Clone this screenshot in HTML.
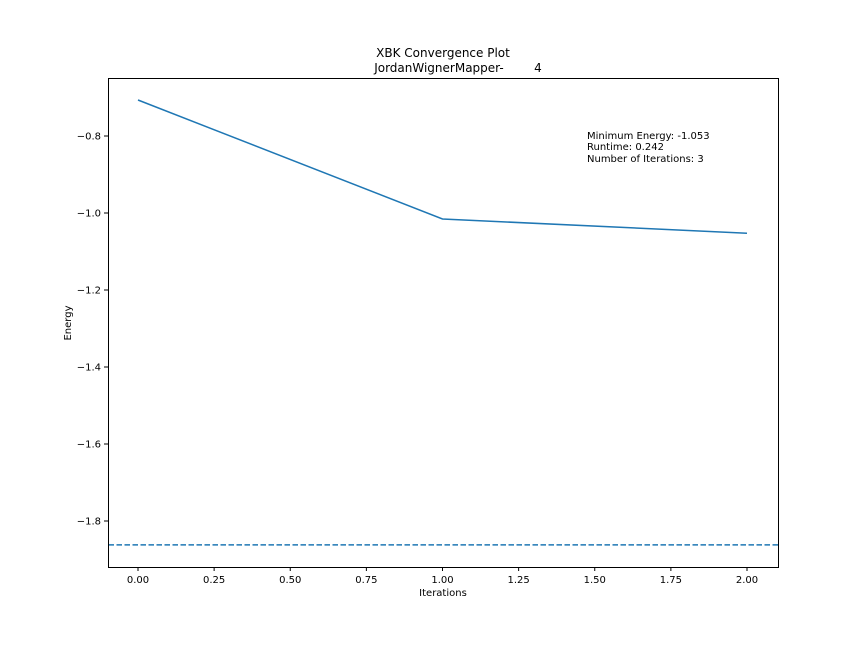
<!DOCTYPE html>
<html><head><meta charset="utf-8"><style>
body{margin:0;background:#fff;}
svg{font-family:"DejaVu Sans","Liberation Sans",sans-serif;}
</style></head><body>
<svg id="chart" width="864" height="648">
<rect width="864" height="648" fill="#fff"/>
<text x="443" y="57" font-size="12" text-anchor="middle">XBK Convergence Plot</text>
<text x="458" y="72" font-size="12" text-anchor="middle" style="white-space:pre" xml:space="preserve">JordanWignerMapper-        4</text>
<g id="ticks"></g>
<g id="marks"></g>
<rect x="108.5" y="78.5" width="670" height="489" fill="none" stroke="#000" stroke-width="1"/>
<text x="443" y="596" font-size="10" text-anchor="middle">Iterations</text>
<text x="71" y="323" font-size="10" text-anchor="middle" transform="rotate(-90 71 323)">Energy</text>
<g font-size="10">
<text x="587" y="139">Minimum Energy: -1.053</text>
<text x="587" y="150">Runtime: 0.242</text>
<text x="587" y="162">Number of Iterations: 3</text>
</g>
</svg>
<script>
const iterations=[0,1,2];
const energies=[-0.7065,-1.0156,-1.0525];
const referenceEnergy=[-1.862];
const xTicks=[0,0.25,0.5,0.75,1,1.25,1.5,1.75,2];
const xTickLabels=["0.00","0.25","0.50","0.75","1.00","1.25","1.50","1.75","2.00"];
const yTicks=[-0.8,-1.0,-1.2,-1.4,-1.6,-1.8];
const yTickLabels=["\u22120.8","\u22121.0","\u22121.2","\u22121.4","\u22121.6","\u22121.8"];
const NS="http://www.w3.org/2000/svg";
function xs(v){return 138+v*304.5;}
function ys(v){return 136+(-0.8-v)*385;}
const ticks=document.getElementById('ticks'),marks=document.getElementById('marks');
function mk(tag,attrs,parent){const e=document.createElementNS(NS,tag);for(const k in attrs)e.setAttribute(k,attrs[k]);parent.appendChild(e);return e;}
xTicks.forEach((t,i)=>{const x=xs(t);
const l=mk('line',{x1:x,x2:x,y1:567,y2:571,stroke:'#000'},ticks);


const tx=mk('text',{x:x,y:583,'font-size':10,'text-anchor':'middle'},ticks);tx.textContent=xTickLabels[i];

});
yTicks.forEach((t,i)=>{const y=ys(t);
const l=mk('line',{x1:104,x2:108,y1:y,y2:y,stroke:'#000'},ticks);


const tx=mk('text',{x:101,y:y+3.5,'font-size':10,'text-anchor':'end'},ticks);tx.textContent=yTickLabels[i];

});
const p=mk('polyline',{points:iterations.map((v,i)=>xs(v)+','+ys(energies[i])).join(' '),fill:'none',stroke:'#1f77b4','stroke-width':1.5},marks);


const d=mk('line',{x1:108.5,x2:778.5,y1:ys(referenceEnergy[0]),y2:ys(referenceEnergy[0]),stroke:'#1f77b4','stroke-width':1.5,'stroke-dasharray':'5.5,2.5'},marks);


</script>
</body></html>
